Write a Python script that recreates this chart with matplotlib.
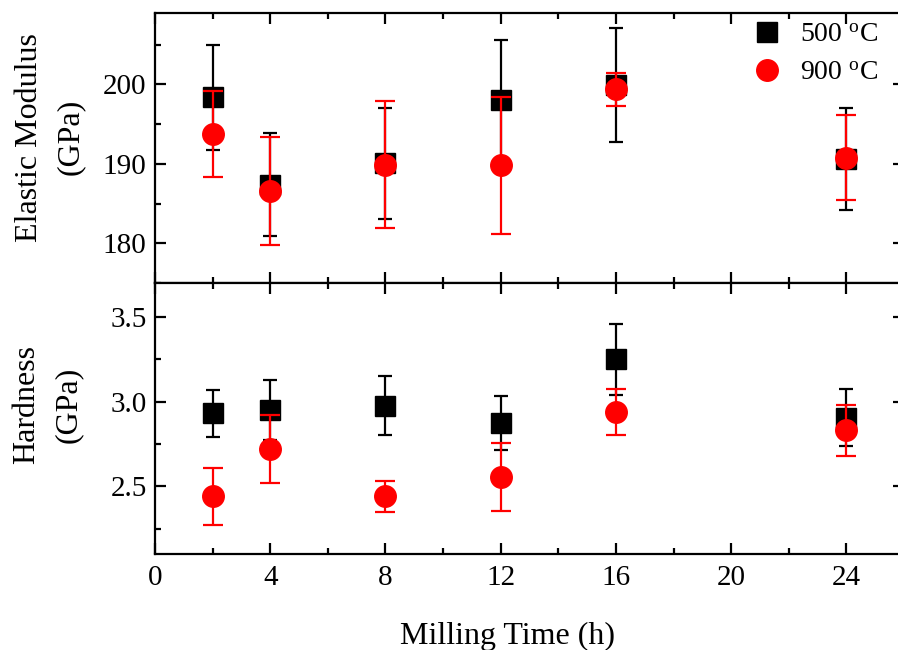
import matplotlib
matplotlib.use('Agg')
import matplotlib.pyplot as plt
from matplotlib.ticker import MultipleLocator

plt.rcParams['font.family'] = ['Liberation Serif', 'DejaVu Serif']
plt.rcParams['mathtext.fontset'] = 'custom'
plt.rcParams['mathtext.rm'] = 'Liberation Serif'
plt.rcParams['mathtext.it'] = 'Liberation Serif:italic'

#%% data
time_h = [2, 4, 8, 12, 16, 24]

modulus_500 = [198.4, 187.4, 190.1, 198.0, 199.9, 190.6]
modulus_500_err = [6.6, 6.5, 7.0, 7.6, 7.2, 6.4]
modulus_900 = [193.8, 186.6, 189.9, 189.8, 199.4, 190.8]
modulus_900_err = [5.4, 6.8, 8.0, 8.6, 2.1, 5.4]

hard_500 = [2.93, 2.95, 2.975, 2.875, 3.25, 2.905]
hard_500_err = [0.14, 0.175, 0.175, 0.16, 0.21, 0.167]
hard_900 = [2.44, 2.72, 2.44, 2.553, 2.94, 2.83]
hard_900_err = [0.17, 0.20, 0.09, 0.20, 0.135, 0.15]

labels = ['500 $^{\\mathrm{o}}$C', '900 $^{\\mathrm{o}}$C']

#%%
fig = plt.figure(figsize=(8.98, 6.5), dpi=100)
left = 155/898
width = 749/898
ax1 = fig.add_axes([left, 1 - 283/650, width, 270/650])
ax2 = fig.add_axes([left, 1 - 554/650, width, 271/650])

fs_tick = 21
fs_lab = 23

def style(ax):
    for sp in ax.spines.values():
        sp.set_linewidth(1.6)
    # right spine falls outside the cropped image in the original
    ax.spines['right'].set_visible(False)
    ax.tick_params(which='both', direction='in', top=True, right=True,
                   width=1.6, labelsize=fs_tick)
    ax.tick_params(which='major', length=8)
    ax.tick_params(which='minor', length=4.5)
    ax.tick_params(axis='x', pad=8)
    ax.tick_params(axis='y', pad=6)
    ax.set_xlim(0, 26)
    ax.xaxis.set_major_locator(MultipleLocator(4))
    ax.xaxis.set_minor_locator(MultipleLocator(2))

def draw(ax, y5, e5, y9, e9):
    ax.errorbar(time_h, y5, yerr=e5, fmt='none', ecolor='black',
                elinewidth=1.6, capsize=5, capthick=1.6, zorder=2)
    ax.plot(time_h, y5, 's', color='black', ms=14.5, zorder=3, label=labels[0])
    ax.errorbar(time_h, y9, yerr=e9, fmt='none', ecolor='red',
                elinewidth=1.6, capsize=7.5, capthick=1.6, zorder=4)
    ax.plot(time_h, y9, 'o', color='red', ms=15.5, zorder=5, label=labels[1])

draw(ax1, modulus_500, modulus_500_err, modulus_900, modulus_900_err)
draw(ax2, hard_500, hard_500_err, hard_900, hard_900_err)

style(ax1)
style(ax2)

ax1.set_ylim(175, 209)
ax1.yaxis.set_major_locator(MultipleLocator(10))
ax1.yaxis.set_minor_locator(MultipleLocator(5))
ax1.tick_params(axis='x', labelbottom=False)

ax2.set_ylim(2.1, 3.7)
ax2.yaxis.set_major_locator(MultipleLocator(0.5))
ax2.yaxis.set_minor_locator(MultipleLocator(0.25))
ax2.yaxis.set_major_formatter(plt.FormatStrFormatter('%.1f'))

ax1.set_ylabel('Elastic Modulus\n(GPa)', fontsize=fs_lab, linespacing=1.55)
ax1.yaxis.set_label_coords(-0.093, 0.54)
ax2.set_ylabel('Hardness\n(GPa)', fontsize=fs_lab, linespacing=1.55)
ax2.yaxis.set_label_coords(-0.097, 0.55)

ax2.set_xlabel('Milling Time (h)', fontsize=fs_lab)
ax2.xaxis.set_label_coords(0.47, -0.25)

ax1.legend(loc='upper right', bbox_to_anchor=(0.966, 0.965), frameon=False,
           fontsize=20, numpoints=1, handlelength=1.2, handletextpad=0.6,
           labelspacing=0.45, borderpad=0, borderaxespad=0)

plt.savefig('out.png', dpi=100)
